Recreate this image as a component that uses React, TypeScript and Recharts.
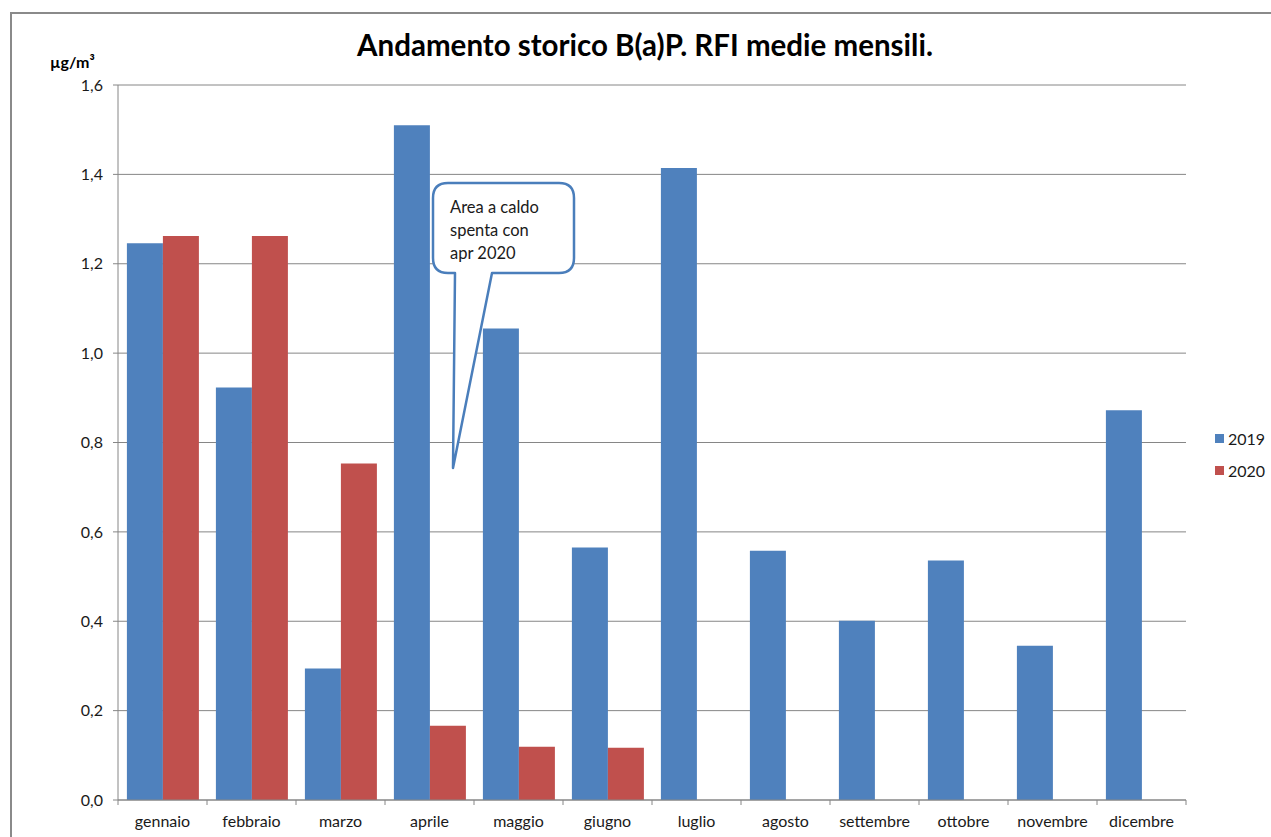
import React from 'react';
import { BarChart, Bar, XAxis, YAxis, CartesianGrid } from 'recharts';

const months = ['gennaio', 'febbraio', 'marzo', 'aprile', 'maggio', 'giugno', 'luglio', 'agosto', 'settembre', 'ottobre', 'novembre', 'dicembre'];
const values2019 = [1.246, 0.923, 0.294, 1.51, 1.055, 0.565, 1.414, 0.558, 0.401, 0.536, 0.345, 0.872];
const values2020: (number | null)[] = [1.262, 1.262, 0.753, 0.166, 0.119, 0.117, null, null, null, null, null, null];
const yTicks = [0, 0.2, 0.4, 0.6, 0.8, 1.0, 1.2, 1.4, 1.6];
const seriesNames = ['2019', '2020'];
const seriesColors = ['#4F81BD', '#C0504D'];
const title = 'Andamento storico B(a)P. RFI medie mensili.';
const yUnit = 'µg/m³';
const calloutLines = ['Area a caldo', 'spenta con', 'apr 2020'];

const data = months.map((m, i) => ({ month: m, s2019: values2019[i], s2020: values2020[i] }));

const FONT = 'Lato, "Open Sans", sans-serif';
const W = 1271;
const H = 837;
const MARGIN = { top: 85, right: 85, bottom: 0, left: 58 };
const Y_W = 60;
const X_H = 37;

const XTick = (props: any) => {
  const { x, y, payload, index } = props;
  const plotW = props.width || (W - MARGIN.left - MARGIN.right - Y_W);
  const band = plotW / months.length;
  const left = x - band / 2;
  const right = x + band / 2;
  return (
    <g>
      <line x1={left} y1={y} x2={left} y2={y + 5} stroke="#868686" strokeWidth={1} />
      {index === months.length - 1 && (
        <line x1={right} y1={y} x2={right} y2={y + 5} stroke="#868686" strokeWidth={1} />
      )}
      <text x={x} y={y + 27} textAnchor="middle" fontSize={16} fontFamily={FONT} fill="#1a1a1a">
        {payload.value}
      </text>
    </g>
  );
};

export default function App() {
  return (
    <div style={{ position: 'absolute', left: 0, top: 0, width: W, height: H, overflow: 'hidden', background: '#fff' }}>
      <div style={{ position: 'absolute', left: 10, top: 12, width: W, height: H, borderLeft: '2px solid #8a8a8a', borderTop: '2px solid #8a8a8a', boxSizing: 'border-box' }} />
      <div style={{ position: 'absolute', left: 0, top: 27, width: 1290, textAlign: 'center', fontFamily: FONT, fontWeight: 700, fontSize: 29.5, color: '#000', whiteSpace: 'nowrap' }}>
        {title}
      </div>
      <div style={{ position: 'absolute', left: 50, top: 52, fontFamily: FONT, fontWeight: 700, fontSize: 16, color: '#000' }}>
        {yUnit}
      </div>
      <div style={{ position: 'absolute', left: 0, top: 0 }}>
        <BarChart width={W} height={H} data={data} margin={MARGIN} barCategoryGap="10%" barGap={0}>
          <CartesianGrid vertical={false} stroke="#868686" strokeWidth={1} />
          <XAxis
            dataKey="month"
            height={X_H}
            tickSize={0}
            tickMargin={0}
            tickLine={false}
            axisLine={{ stroke: '#868686' }}
            tick={<XTick />}
            interval={0}
          />
          <YAxis
            width={Y_W}
            domain={[0, 1.6]}
            ticks={yTicks}
            tickSize={5}
            tickMargin={10}
            tickLine={{ stroke: '#868686' }}
            axisLine={{ stroke: '#868686' }}
            tick={{ fontSize: 16, fontFamily: FONT, fill: '#1a1a1a' }}
            tickFormatter={(v: number) => v.toFixed(1).replace('.', ',')}
            interval={0}
          />
          <Bar dataKey="s2019" name={seriesNames[0]} fill={seriesColors[0]} isAnimationActive={false} />
          <Bar dataKey="s2020" name={seriesNames[1]} fill={seriesColors[1]} isAnimationActive={false} />
        </BarChart>
      </div>
      <svg style={{ position: 'absolute', left: 0, top: 0 }} width={W} height={H} pointerEvents="none">
        <path
          d="M 448,183 H 559 Q 574,183 574,198 V 258 Q 574,273 559,273 H 492 L 453,468 L 455,273 H 448 Q 433,273 433,258 V 198 Q 433,183 448,183 Z"
          fill="#fff"
          stroke="#4A7EBB"
          strokeWidth={2.5}
          strokeLinejoin="round"
        />
        {calloutLines.map((t, i) => (
          <text key={t} x={450} y={213 + i * 23} fontSize={16.5} fontFamily={FONT} fill="#1a1a1a">
            {t}
          </text>
        ))}
      </svg>
      <div style={{ position: 'absolute', left: 1215, top: 422, fontFamily: FONT, fontSize: 16, color: '#1a1a1a' }}>
        {seriesNames.map((n, i) => (
          <div key={n} style={{ display: 'flex', alignItems: 'center', height: 32 }}>
            <span style={{ display: 'inline-block', width: 9, height: 9, background: seriesColors[i], marginRight: 4 }} />
            <span>{n}</span>
          </div>
        ))}
      </div>
    </div>
  );
}
